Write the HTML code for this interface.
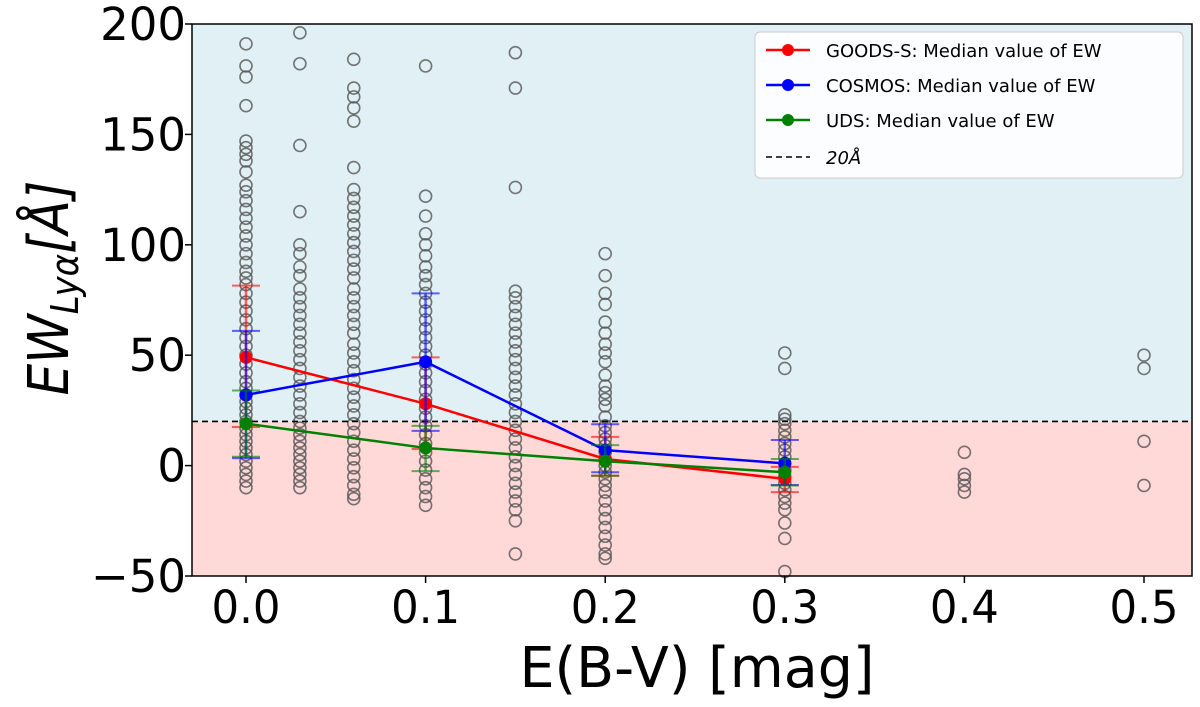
<!DOCTYPE html>
<html><head><meta charset="utf-8">
<style>
body{margin:0;background:#fff;}
svg text{font-family:"DejaVu Sans","Liberation Sans",sans-serif;}
</style></head>
<body>
<svg id="chart" width="1200" height="702" xmlns="http://www.w3.org/2000/svg">
<g id="bg"></g>
<g id="pts"></g>
<g id="lines"></g>
<g id="axes"></g>
</svg>
<script>
const xCols = [0.0, 0.03, 0.06, 0.1, 0.15, 0.2, 0.3, 0.4, 0.5];
const scatterVals = [
 [191,181,176,163,147,144,141,138,133,127,124,120,116,112,108,104,100,96,92,88,85,82,78,74,70,66,62,58,54,50,46,42,38,35,32,29,26,23,20,17,14,11,8,5,2,-1,-4,-7,-10],
 [196,182,145,115,100,96,90,86,80,76,72,68,64,60,56,52,48,44,40,36,32,28,24,20,17,14,11,8,5,2,-1,-4,-7,-10],
 [184,171,167,162,156,135,125,121,117,113,109,105,101,97,93,89,85,80,76,72,68,64,60,55,51,47,43,39,35,31,27,23,19,15,11,7,3,-1,-5,-9,-13,-15],
 [181,122,113,105,100,95,90,86,82,78,74,70,66,62,58,54,50,46,42,38,34,30,26,22,18,14,10,6,2,-2,-6,-10,-14,-18],
 [187,171,126,79,76,72,68,64,60,56,52,48,44,40,36,32,28,24,20,16,12,8,4,0,-4,-8,-12,-16,-20,-25,-40],
 [96,86,78,73,65,60,55,51,47,41,36,33,30,27,22,18,15,12,9,6,3,0,-3,-6,-9,-12,-16,-20,-24,-28,-32,-36,-40,-42],
 [51,44,23,21,19,16,13,10,7,4,1,-2,-5,-8,-11,-14,-17,-20,-26,-33,-48],
 [6,-4,-6,-9,-12],
 [50,44,11,-9]
];
const medX = [0.0, 0.1, 0.2, 0.3];
const goodsMed = [49, 28, 3, -6];
const goodsHi = [81.5, 49, 13, -0.6];
const goodsLo = [17.5, 7.5, -4.6, -12];
const cosmosMed = [32, 47, 7, 1];
const cosmosHi = [61, 78, 18.7, 11.6];
const cosmosLo = [3.4, 15.7, -3, -8.8];
const udsMed = [19, 8, 2, -3];
const udsHi = [34, 18, 9.3, 3];
const udsLo = [4, -2.5, -4.6, -9];
const xTicks = [0.0, 0.1, 0.2, 0.3, 0.4, 0.5];
const yTicks = [-50, 0, 50, 100, 150, 200];
const threshold = 20;

const L=192,R=1192,T=24,B=576;
const xs = v => 246 + v*1796;
const ys = v => B - (v+50)*(B-T)/250;
const NS="http://www.w3.org/2000/svg";
function mk(p,tag,a){const e=document.createElementNS(NS,tag);for(const k in a)e.setAttribute(k,a[k]);p.appendChild(e);return e;}
const bg=document.getElementById('bg'),pts=document.getElementById('pts'),ln=document.getElementById('lines'),ax=document.getElementById('axes');

let r=mk(bg,'rect',{x:L,y:T,width:R-L,height:ys(threshold)-T,fill:'#e0f0f5'});


r=mk(bg,'rect',{x:L,y:ys(threshold),width:R-L,height:B-ys(threshold),fill:'#ffd8d8'});



xCols.forEach((x,i)=>{scatterVals[i].forEach(v=>{
 const c=mk(pts,'circle',{cx:xs(x),cy:ys(v),r:6,fill:'none',stroke:'#555','stroke-width':1.6,'stroke-opacity':0.8});
 
 
});});

let th=mk(ln,'line',{x1:L,x2:R,y1:ys(threshold),y2:ys(threshold),stroke:'#000','stroke-width':1.6,'stroke-dasharray':'6,4'});



function series(name,col,med,hi,lo){
 const g=mk(ln,'g',{});
 
 
 medX.forEach((x,i)=>{
  const px=xs(x);
  mk(g,'line',{x1:px,x2:px,y1:ys(hi[i]),y2:ys(lo[i]),stroke:col,'stroke-width':2.5,'stroke-opacity':0.6});
  mk(g,'line',{x1:px-14,x2:px+14,y1:ys(hi[i]),y2:ys(hi[i]),stroke:col,'stroke-width':2,'stroke-opacity':0.6});
  mk(g,'line',{x1:px-14,x2:px+14,y1:ys(lo[i]),y2:ys(lo[i]),stroke:col,'stroke-width':2,'stroke-opacity':0.6});
 });
 mk(g,'polyline',{points:medX.map((x,i)=>xs(x)+','+ys(med[i])).join(' '),fill:'none',stroke:col,'stroke-width':2.5});
 medX.forEach((x,i)=>{const c=mk(g,'circle',{cx:xs(x),cy:ys(med[i]),r:6.5,fill:col});
  
  });
}
series('goods-s','#ff0000',goodsMed,goodsHi,goodsLo);
series('cosmos','#0000ff',cosmosMed,cosmosHi,cosmosLo);
series('uds','#008000',udsMed,udsHi,udsLo);

let fr=mk(ax,'rect',{x:L,y:T,width:R-L,height:B-T,fill:'none',stroke:'#000','stroke-width':1.5});


xTicks.forEach(v=>{
 mk(ax,'line',{x1:xs(v),x2:xs(v),y1:B,y2:B+7,stroke:'#000','stroke-width':1.5});
 const t=mk(ax,'text',{x:xs(v),y:623,'font-size':45,'text-anchor':'middle',textLength:69,lengthAdjust:'spacingAndGlyphs'});t.textContent=v.toFixed(1);
 
 
});
yTicks.forEach(v=>{
 mk(ax,'line',{x1:L-7,x2:L,y1:ys(v),y2:ys(v),stroke:'#000','stroke-width':1.5});
 const t=mk(ax,'text',{x:L-6,y:ys(v)+16,'font-size':45,'text-anchor':'end'});t.textContent=v<0?'\u2212'+(-v):v;
 
 
});
let xl=mk(ax,'text',{x:697,y:687,'font-size':56,'text-anchor':'middle',textLength:355,lengthAdjust:'spacingAndGlyphs'});xl.textContent='E(B-V) [mag]';


let yl=mk(ax,'text',{x:0,y:0,'font-size':56,'text-anchor':'middle','font-style':'italic',transform:'translate(68,288) rotate(-90)',textLength:215,lengthAdjust:'spacingAndGlyphs'});
yl.innerHTML='EW<tspan font-size="38" dy="10">Lyα</tspan><tspan dy="-10">[Å]</tspan>';



const lg=mk(ax,'g',{});


mk(lg,'rect',{x:755,y:32,width:428,height:146,rx:5,fill:'#fff','fill-opacity':0.85,stroke:'#ccc'});
const ents=[['#ff0000','GOODS-S: Median value of EW'],['#0000ff','COSMOS: Median value of EW'],['#008000','UDS: Median value of EW']];
ents.forEach((e,i)=>{
 const y=50+i*35;
 const g=mk(lg,'g',{});
 
 
 mk(g,'line',{x1:766,x2:810,y1:y,y2:y,stroke:e[0],'stroke-width':2.5});
 mk(g,'circle',{cx:788,cy:y,r:6,fill:e[0]});
 const t=mk(g,'text',{x:826,y:y+7,'font-size':18});t.textContent=e[1];
});
const g4=mk(lg,'g',{});


mk(g4,'line',{x1:766,x2:810,y1:157,y2:157,stroke:'#000','stroke-width':1.6,'stroke-dasharray':'6,4'});
const t4=mk(g4,'text',{x:826,y:164,'font-size':18,'font-style':'italic'});t4.textContent='20Å';
</script>
</body></html>
